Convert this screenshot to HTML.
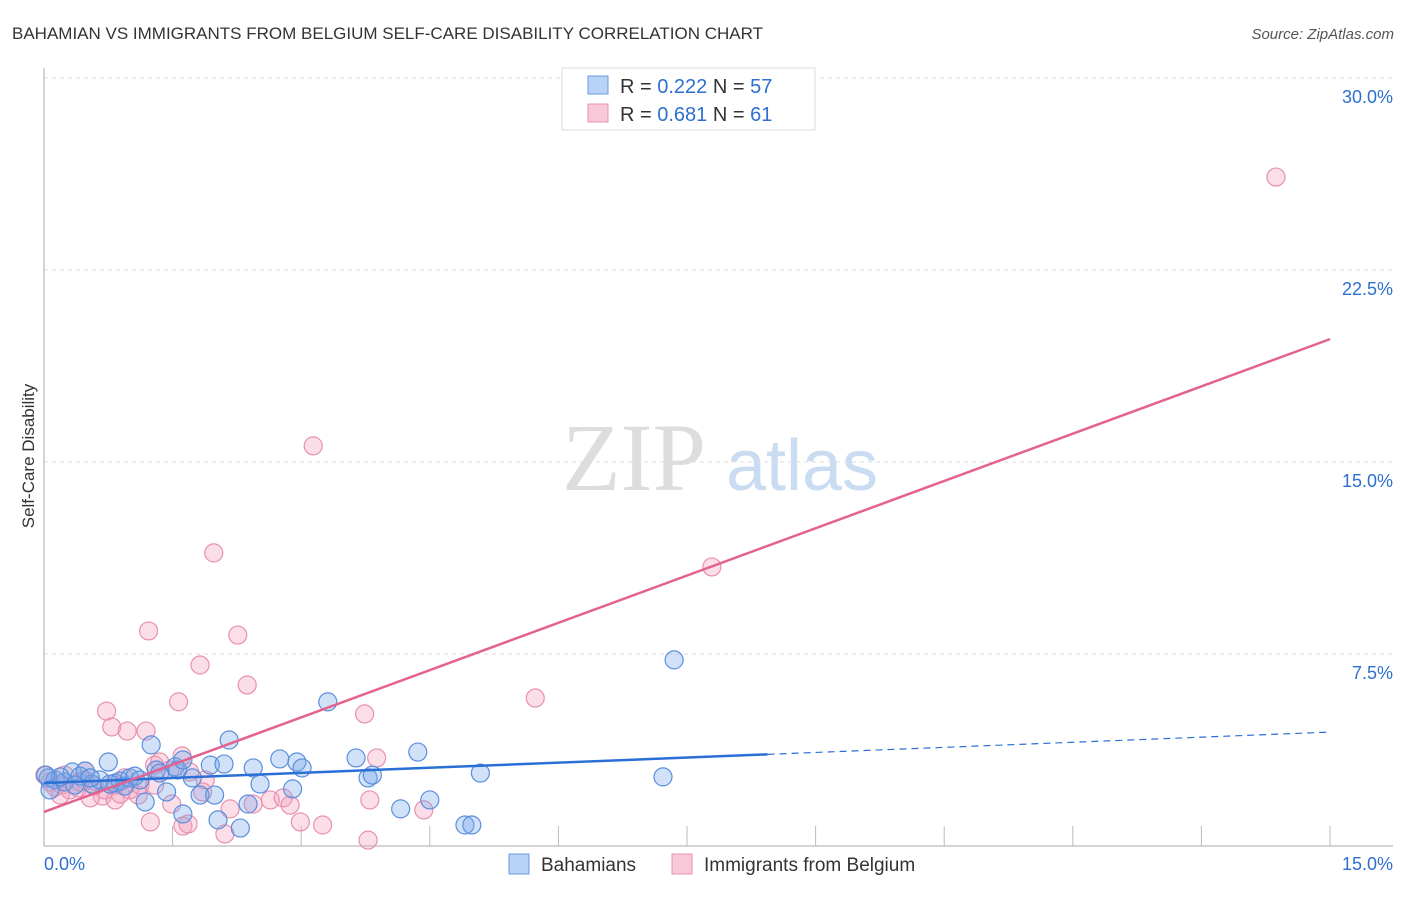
<!DOCTYPE html>
<html><head><meta charset="utf-8"><style>
body{margin:0;background:#fff;font-family:"Liberation Sans",sans-serif}
#wrap{position:relative;width:1406px;height:892px}
</style></head><body>
<div id="wrap">
<svg id="svg" width="1406" height="892" xmlns="http://www.w3.org/2000/svg">
<text x="12" y="39" font-size="17" fill="#333">BAHAMIAN VS IMMIGRANTS FROM BELGIUM SELF-CARE DISABILITY CORRELATION CHART</text>
<text x="1394" y="39" font-size="15" fill="#555" font-style="italic" text-anchor="end">Source: ZipAtlas.com</text>
<text x="34" y="456" font-size="17" fill="#333" text-anchor="middle" transform="rotate(-90 34 456)">Self-Care Disability</text>
<g><text x="634" y="490" font-size="96" fill="#ddd" font-family="Liberation Serif,serif" text-anchor="middle">ZIP</text><text x="802" y="490" font-size="72" fill="#c9dcf2" text-anchor="middle">atlas</text></g>
<g id="grid"></g><g id="marks"></g>
<g>
<rect x="562" y="68" width="253" height="62" fill="#fff" stroke="#ddd"/>
<rect x="588" y="76" width="20" height="18" fill="#b8d3f5" stroke="#6a9be0"/>
<text x="620" y="93" font-size="20" fill="#333">R = <tspan fill="#2e6fd0">0.222</tspan>   N = <tspan fill="#2e6fd0">57</tspan></text>
<rect x="588" y="104" width="20" height="18" fill="#f8c9d8" stroke="#e890b0"/>
<text x="620" y="121" font-size="20" fill="#333">R = <tspan fill="#2e6fd0">0.681</tspan>   N = <tspan fill="#2e6fd0"> 61</tspan></text>
</g>
<g>
<rect x="509" y="854" width="20" height="20" fill="#b8d3f5" stroke="#6a9be0"/>
<text x="541" y="871" font-size="19" fill="#333">Bahamians</text>
<rect x="672" y="854" width="20" height="20" fill="#f8c9d8" stroke="#e890b0"/>
<text x="704" y="871" font-size="19" fill="#333">Immigrants from Belgium</text>
</g>
</svg></div>
<script>
const yTicks=[7.5,15,22.5,30];
const yTickLabels=["7.5%","15.0%","22.5%","30.0%"];
const xTickLabels=["0.0%","15.0%"];
const blueX=[.05,.13,.24,.33,.42,.48,.56,.65,.75,.83,.89,.94,1.0,1.06,1.18,1.25,1.31,1.35,1.43,1.53,1.56,1.62,1.62,1.73,1.82,1.94,1.99,2.03,2.1,2.16,2.29,2.38,2.44,2.52,2.75,2.9,2.95,3.01,3.31,3.64,3.78,3.83,4.16,4.36,4.5,4.91,4.99,5.09,7.22,7.35,.77,.54,.19,1.12,.36,.02,.07];
const blueY=[2.66,2.58,2.5,2.89,2.73,2.93,2.42,2.58,3.28,2.46,2.54,2.34,2.66,2.73,1.72,3.95,2.97,2.85,2.11,3.09,2.97,3.36,1.25,2.66,1.99,3.16,1.99,1.02,3.2,4.14,.7,1.64,3.05,2.42,3.4,2.23,3.28,3.05,5.63,3.44,2.66,2.77,1.45,3.67,1.8,.82,.82,2.85,2.7,7.27,2.42,2.66,2.7,2.58,2.38,2.77,2.19];
const pinkX=[14.37,3.14,1.98,7.79,1.22,2.26,1.82,2.37,5.73,3.74,.73,1.57,.79,.97,1.19,1.61,1.29,3.88,1.35,.07,.13,.21,.3,.4,.48,.59,.68,.83,.89,1.0,1.1,1.24,1.49,1.62,1.68,1.85,2.11,2.17,2.44,2.64,2.79,2.87,2.99,3.25,3.78,3.8,4.43,.01,.24,.48,.71,1.12,1.29,1.47,1.7,1.88,.54,.83,.94,.19,.42];
const pinkY=[26.13,15.63,11.45,10.9,8.4,8.24,7.07,6.29,5.78,5.16,5.27,5.63,4.65,4.49,4.49,3.52,3.16,3.44,3.28,2.5,2.3,2.38,2.19,2.27,2.58,2.34,1.95,1.8,2.03,2.19,1.99,.94,1.64,.78,.86,2.11,.47,1.45,1.64,1.8,1.88,1.6,.94,.82,.23,1.8,1.41,2.77,2.77,2.93,2.19,2.38,2.38,2.97,2.89,2.58,1.88,2.38,2.66,1.99,2.5];
const blueTrend=[2.46,4.45];
const pinkTrend=[1.33,19.8];
const NS="http://www.w3.org/2000/svg";
const sx=v=>44+v/15*1286, sy=v=>846-v/30*768;
function mk(t,a,p){const e=document.createElementNS(NS,t);for(const k in a)e.setAttribute(k,a[k]);p.appendChild(e);return e;}
const grid=document.getElementById('grid'),marks=document.getElementById('marks');
yTicks.forEach((v,i)=>{
 const l=mk('line',{x1:44,x2:1393,y1:sy(v),y2:sy(v),stroke:'#ddd','stroke-dasharray':'4,4'},grid);
 
 
 const t=mk('text',{x:1393,y:sy(v)+25,'font-size':18,fill:'#2e6fd0','text-anchor':'end'},grid);
 t.textContent=yTickLabels[i];
 
 
});
const ax=mk('line',{x1:44,x2:44,y1:68,y2:846,stroke:'#aaa'},grid);


const bx=mk('line',{x1:44,x2:1393,y1:846,y2:846,stroke:'#aaa'},grid);


for(let i=1;i<=10;i++){const t=mk('line',{x1:sx(i*1.5),x2:sx(i*1.5),y1:826,y2:846,stroke:'#bbb'},grid);
 
 }
[[0,'start',44],[15,'end',1393]].forEach((d,i)=>{const t=mk('text',{x:d[2],y:870,'font-size':18,fill:'#2e6fd0','text-anchor':d[1]},grid);t.textContent=xTickLabels[i];
 
 });
function pts(X,Y,fill,stroke,name){X.forEach((x,i)=>{const c=mk('circle',{cx:sx(x),cy:sy(Y[i]),r:9,fill:fill,stroke:stroke,'stroke-width':1.2},marks);
 
 });}
pts(pinkX,pinkY,'rgba(244,160,190,0.35)','#e890b0','point-belgium');
pts(blueX,blueY,'rgba(120,170,235,0.35)','#5b8fdc','point-bahamian');
const bm=blueTrend[0]+(blueTrend[1]-blueTrend[0])*(8.44/15);
const b1=mk('line',{x1:sx(0),y1:sy(blueTrend[0]),x2:sx(8.44),y2:sy(bm),stroke:'#2a6fd6','stroke-width':2.5},marks);


const b2=mk('line',{x1:sx(8.44),y1:sy(bm),x2:sx(15),y2:sy(blueTrend[1]),stroke:'#2a6fd6','stroke-width':1.2,'stroke-dasharray':'7,5'},marks);


const p1=mk('line',{x1:sx(0),y1:sy(pinkTrend[0]),x2:sx(15),y2:sy(pinkTrend[1]),stroke:'#e4628f','stroke-width':2.5},marks);


</script>
</body></html>
